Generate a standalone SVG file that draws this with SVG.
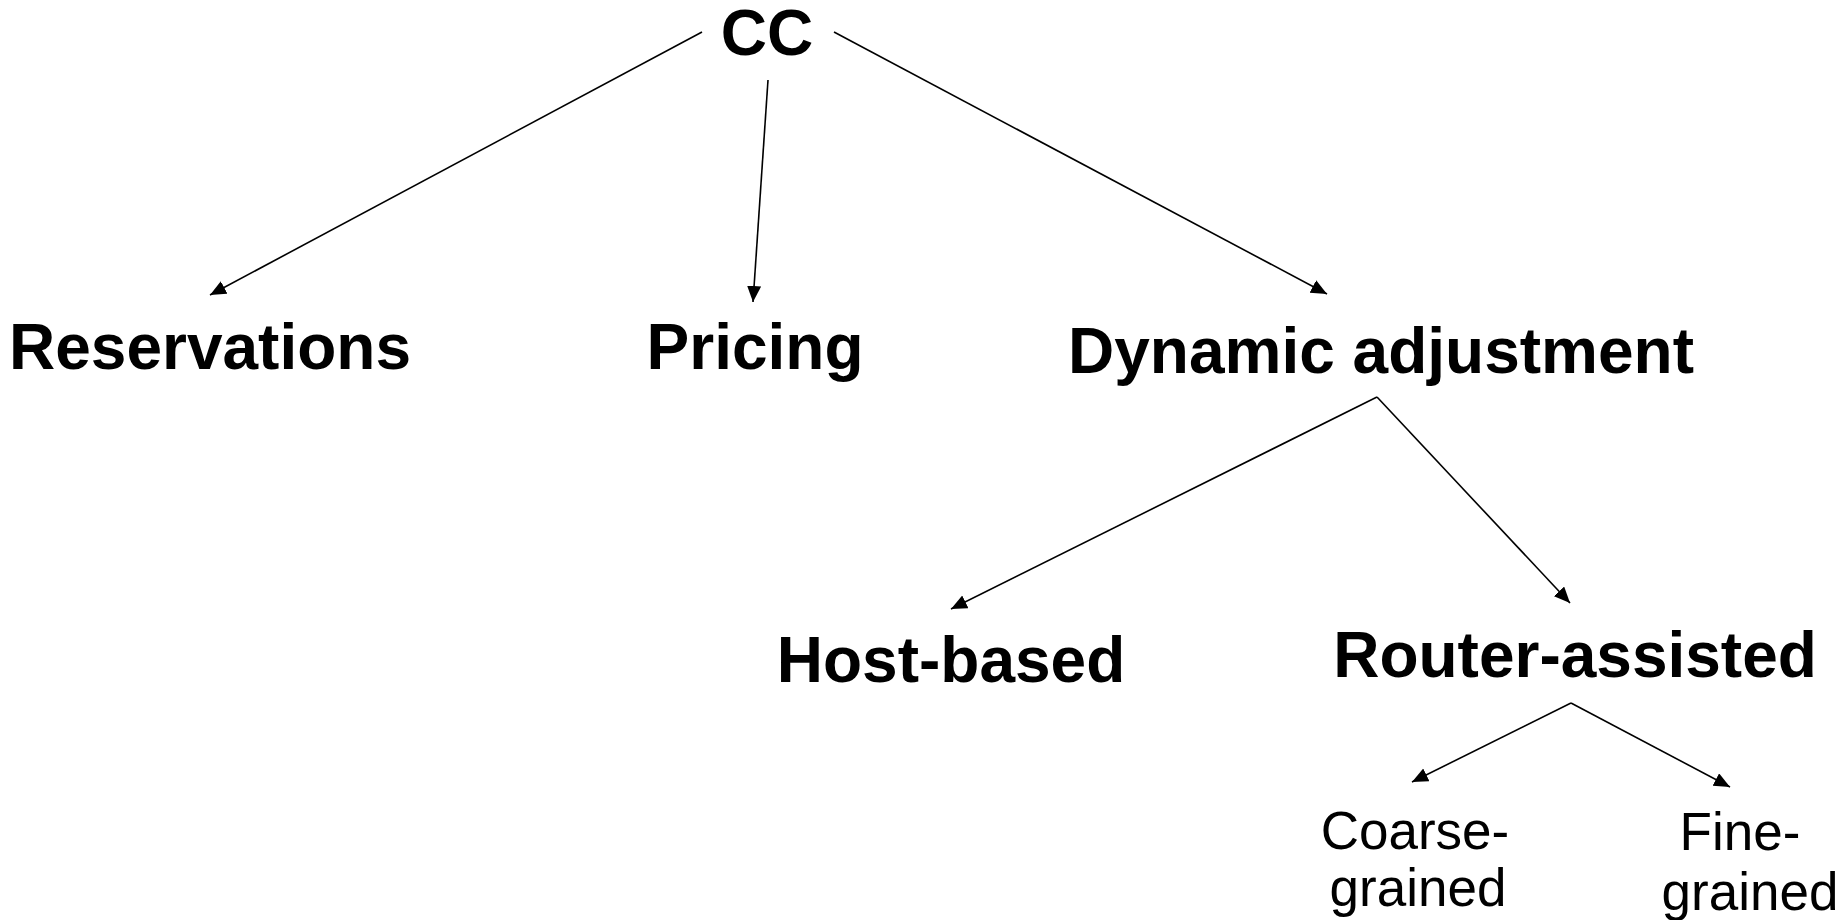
<svg xmlns="http://www.w3.org/2000/svg" width="1837" height="920" viewBox="0 0 1837 920">
  <style>
    .big { font-family: "Liberation Sans", Arial, sans-serif; font-weight: bold; font-size: 64px; fill: #000; text-anchor: middle; }
    .small { font-family: "Liberation Sans", Arial, sans-serif; font-size: 53px; fill: #000; text-anchor: middle; }
    .edge { stroke: #000; stroke-width: 1.6; fill: none; marker-end: url(#arrow); }
  </style>
  <defs>
    <marker id="arrow" markerUnits="userSpaceOnUse" markerWidth="17" markerHeight="15" refX="16" refY="7" orient="auto">
      <path d="M0,0 L16,7 L0,14 z" fill="#000"/>
    </marker>
  </defs>
  <rect width="1837" height="920" fill="#fff"/>

  <g id="connectors">
    <line class="edge" x1="702" y1="32" x2="210" y2="295"/>
    <line class="edge" x1="768" y1="80" x2="753" y2="302"/>
    <line class="edge" x1="834" y1="32" x2="1327" y2="294"/>
    <line class="edge" x1="1377" y1="397" x2="951" y2="609"/>
    <line class="edge" x1="1377" y1="397" x2="1570" y2="603"/>
    <line class="edge" x1="1571" y1="703" x2="1412" y2="782"/>
    <line class="edge" x1="1571" y1="703" x2="1730" y2="787"/>
  </g>

  <g id="node-cc"><text class="big" x="767" y="55">CC</text></g>
  <g id="node-reservations"><text class="big" x="210" y="369">Reservations</text></g>
  <g id="node-pricing"><text class="big" x="755" y="369">Pricing</text></g>
  <g id="node-dynamic"><text class="big" x="1381" y="373">Dynamic adjustment</text></g>
  <g id="node-host"><text class="big" x="951" y="682">Host-based</text></g>
  <g id="node-router"><text class="big" x="1575" y="677">Router-assisted</text></g>
  <g id="node-coarse">
    <text class="small" x="1415" y="849">Coarse-</text>
    <text class="small" x="1418" y="906">grained</text>
  </g>
  <g id="node-fine">
    <text class="small" x="1740" y="850">Fine-</text>
    <text class="small" x="1750" y="910">grained</text>
  </g>
</svg>
